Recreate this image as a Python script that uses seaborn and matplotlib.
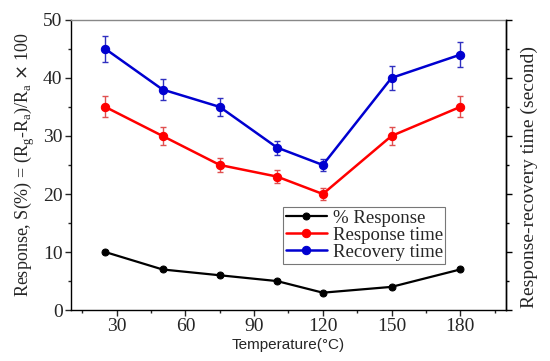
import matplotlib
matplotlib.use("Agg")
import matplotlib.pyplot as plt
import seaborn as sns
import pandas as pd
from matplotlib.ticker import MultipleLocator

# data
temperature = [25, 50, 75, 100, 120, 150, 180]
response = [10, 7, 6, 5, 3, 4, 7]
response_time = [35, 30, 25, 23, 20, 30, 35]
response_time_err = [1.8, 1.5, 1.2, 1.1, 1.0, 1.5, 1.8]
recovery_time = [45, 38, 35, 28, 25, 40, 44]
recovery_time_err = [2.2, 1.8, 1.5, 1.2, 1.0, 2.0, 2.2]

df = pd.DataFrame({
    "T": temperature,
    "% Response": response,
    "Response time": response_time,
    "Recovery time": recovery_time,
})

sns.set_style("ticks")
plt.rcParams["font.family"] = ["Liberation Serif", "DejaVu Serif"]

fig = plt.figure(figsize=(5.5, 3.61), dpi=100)
ax = fig.add_axes([0.129, 0.141, 0.791, 0.804])

# % Response
sns.lineplot(data=df, x="T", y="% Response", ax=ax, color="black", marker="o",
             markersize=5, markeredgecolor="black", linewidth=1.6, label="% Response")

# Response time with error bars
ax.errorbar(temperature, response_time, yerr=response_time_err, fmt="none",
            ecolor="#e05050", elinewidth=1, capsize=2.5, capthick=1)
sns.lineplot(data=df, x="T", y="Response time", ax=ax, color="#ff0000", marker="o",
             markersize=6, markeredgecolor="#ff0000", linewidth=1.8, label="Response time")

# Recovery time with error bars
ax.errorbar(temperature, recovery_time, yerr=recovery_time_err, fmt="none",
            ecolor="#3030c0", elinewidth=1, capsize=2.5, capthick=1)
sns.lineplot(data=df, x="T", y="Recovery time", ax=ax, color="#0000d0", marker="o",
             markersize=6, markeredgecolor="#0000d0", linewidth=1.8, label="Recovery time")

ax.set_xlim(10, 200)
ax.set_ylim(0, 50)
ax.xaxis.set_major_locator(MultipleLocator(30))
ax.xaxis.set_minor_locator(MultipleLocator(15))
ax.yaxis.set_major_locator(MultipleLocator(10))
ax.yaxis.set_minor_locator(MultipleLocator(5))
ax.tick_params(axis="both", which="major", direction="out", length=4, width=1,
               labelsize=14, pad=2)
ax.tick_params(axis="both", which="minor", direction="out", length=2.5, width=1)
ax.tick_params(axis="x", which="both", top=False)

for side in ["left", "right", "bottom"]:
    ax.spines[side].set_color("black")
    ax.spines[side].set_linewidth(1)
ax.spines["top"].set_color("#888888")
ax.spines["top"].set_linewidth(1)

ax.set_xlabel("Temperature(\u00b0C)", fontsize=11, family=["Liberation Sans", "DejaVu Sans"], labelpad=2)
ax.set_ylabel(r"Response, S(%) = (R$_\mathregular{g}$-R$_\mathregular{a}$)/R$_\mathregular{a}$ $\times$ 100",
              fontsize=13, labelpad=4)

ax2 = ax.twinx()
ax2.set_ylim(0, 50)
ax2.yaxis.set_major_locator(MultipleLocator(10))
ax2.yaxis.set_minor_locator(MultipleLocator(5))
ax2.tick_params(axis="y", which="major", direction="out", length=4, width=1,
                color="black", labelright=False)
ax2.tick_params(axis="y", which="minor", direction="out", length=2.5, width=1, color="black")
ax2.set_ylabel("Response-recovery time (second)", fontsize=14, labelpad=5)
ax2.yaxis.label.set_position((1, 0.46))
for side in ["left", "top", "bottom"]:
    ax2.spines[side].set_visible(False)
ax2.spines["right"].set_color("black")
ax2.spines["right"].set_linewidth(1)

leg = ax.legend(loc="lower left", bbox_to_anchor=(0.487, 0.16), fontsize=13.5, frameon=True,
                fancybox=False, edgecolor="#555555", handlelength=2.2, handletextpad=0.3,
                borderpad=0.15, labelspacing=0.0, borderaxespad=0)
leg.get_frame().set_linewidth(0.8)

fig.savefig("out.png", dpi=100)
